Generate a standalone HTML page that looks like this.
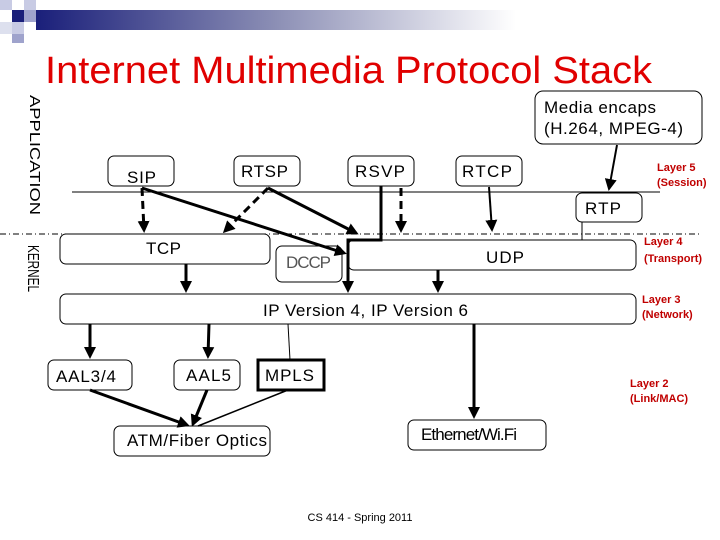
<!DOCTYPE html>
<html><head><meta charset="utf-8"><style>
html,body{margin:0;padding:0;background:#fff}
svg{display:block}
text{font-family:"Liberation Sans",Arial,sans-serif}
</style></head><body>
<svg width="720" height="540" viewBox="0 0 720 540" xmlns="http://www.w3.org/2000/svg">
<defs>
<linearGradient id="g" x1="0" x2="1" y1="0" y2="0">
<stop offset="0" stop-color="#1a1f7a"/><stop offset="0.5" stop-color="#8c8fb5"/><stop offset="1" stop-color="#ffffff"/>
</linearGradient>
<marker id="a" markerWidth="4" markerHeight="4" refX="3" refY="2" orient="auto" markerUnits="strokeWidth">
<path d="M0,0 L4,2 L0,4 z" fill="#000"/></marker>
<marker id="b" markerWidth="6" markerHeight="6" refX="5" refY="3" orient="auto" markerUnits="strokeWidth">
<path d="M0,0 L6,3 L0,6 z" fill="#000"/></marker>
</defs>
<rect x="36" y="10" width="480" height="20" fill="url(#g)"/>
<rect x="0" y="0" width="12" height="10" fill="#c8cbe4"/>
<rect x="12" y="10" width="12" height="12" fill="#1a1f7a"/>
<rect x="24" y="0" width="12" height="10" fill="#c8cbe4"/>
<rect x="24" y="10" width="12" height="12" fill="#9fa3cc"/>
<rect x="0" y="22" width="12" height="12" fill="#dde0ee"/>
<rect x="12" y="22" width="12" height="12" fill="#c8cbe4"/>
<rect x="12" y="34" width="12" height="9" fill="#9fa3cc"/>
<text x="45" y="83" font-size="38" fill="#e00000" textLength="607" lengthAdjust="spacingAndGlyphs">Internet Multimedia Protocol Stack</text>

<text transform="translate(30,95) rotate(90)" font-size="15" textLength="120" lengthAdjust="spacingAndGlyphs">APPLICATION</text>
<text transform="translate(28,245) rotate(90)" font-size="16" textLength="47" lengthAdjust="spacingAndGlyphs">KERNEL</text>

<line x1="72" y1="192" x2="660" y2="192" stroke="#000" stroke-width="1"/>
<line x1="0" y1="234" x2="700" y2="234" stroke="#000" stroke-width="1" stroke-dasharray="6,3,1,3"/>

<g fill="#fff" stroke="#000" stroke-width="1">
<rect x="535" y="91" width="167" height="53" rx="8"/>
<rect x="108" y="156" width="66" height="30" rx="6"/>
<rect x="234" y="156" width="66" height="30" rx="6"/>
<rect x="348" y="156" width="66" height="30" rx="6"/>
<rect x="456" y="156" width="66" height="30" rx="6"/>
<rect x="576" y="193" width="66" height="29" rx="6"/>
<rect x="60" y="234" width="210" height="30" rx="6"/>
<rect x="276" y="246" width="66" height="36" rx="6"/>
<rect x="348" y="240" width="288" height="30" rx="6"/>
<rect x="60" y="294" width="576" height="30" rx="6"/>
<rect x="48" y="360" width="84" height="30" rx="6"/>
<rect x="174" y="360" width="66" height="30" rx="6"/>
<rect x="114" y="426" width="156" height="30" rx="6"/>
<rect x="408" y="420" width="138" height="30" rx="6"/>
</g>
<rect x="258" y="360" width="66" height="30" fill="#fff" stroke="#000" stroke-width="3"/>

<g font-size="17" fill="#000" lengthAdjust="spacingAndGlyphs">
<text x="544" y="113" textLength="112">Media encaps</text>
<text x="544" y="134" textLength="139">(H.264, MPEG-4)</text>
<text x="127" y="183" textLength="29">SIP</text>
<text x="241" y="177" textLength="47">RTSP</text>
<text x="355" y="177" textLength="50">RSVP</text>
<text x="462" y="177" textLength="50">RTCP</text>
<text x="585" y="214" textLength="36">RTP</text>
<text x="146" y="254" textLength="35">TCP</text>
<text x="286" y="268" fill="#555" textLength="45">DCCP</text>
<text x="486" y="263" textLength="38">UDP</text>
<text x="263" y="316" textLength="205">IP Version 4, IP Version 6</text>
<text x="56" y="382" textLength="60">AAL3/4</text>
<text x="186" y="381" textLength="45">AAL5</text>
<text x="265" y="381" textLength="49">MPLS</text>
<text x="127" y="446" textLength="140">ATM/Fiber Optics</text>
<text x="421" y="440" textLength="96">Ethernet/Wi.Fi</text>
</g>
<g font-size="11" font-weight="bold" fill="#c00000">
<text x="657" y="171">Layer 5</text><text x="657" y="186">(Session)</text>
<text x="644" y="245">Layer 4</text><text x="644" y="262">(Transport)</text>
<text x="642" y="303">Layer 3</text><text x="642" y="318">(Network)</text>
<text x="630" y="387">Layer 2</text><text x="630" y="402">(Link/MAC)</text>
</g>
<text x="360" y="521" font-size="11" text-anchor="middle">CS 414 - Spring 2011</text>

<g stroke="#000" fill="none">
<line x1="142" y1="188" x2="144" y2="230" stroke-width="3" stroke-dasharray="8,5" marker-end="url(#a)"/>
<line x1="142" y1="188" x2="344" y2="253" stroke-width="3" marker-end="url(#a)"/>
<line x1="268" y1="188" x2="225" y2="231" stroke-width="3" stroke-dasharray="8,5" marker-end="url(#a)"/>
<line x1="268" y1="188" x2="356" y2="233" stroke-width="3" marker-end="url(#a)"/>
<polyline points="381,186 381,240 348,240 348,290" stroke-width="3" marker-end="url(#a)"/>
<line x1="401" y1="188" x2="401" y2="230" stroke-width="3" stroke-dasharray="8,5" marker-end="url(#a)"/>
<line x1="489" y1="187" x2="492" y2="230" stroke-width="2" marker-end="url(#b)"/>
<line x1="617" y1="145" x2="609" y2="189" stroke-width="2" marker-end="url(#b)"/>
<line x1="582" y1="222" x2="582" y2="240" stroke-width="1"/>
<line x1="438" y1="270" x2="438" y2="290" stroke-width="3" marker-end="url(#a)"/>
<line x1="186" y1="264" x2="186" y2="290" stroke-width="3" marker-end="url(#a)"/>
<line x1="90" y1="324" x2="90" y2="356" stroke-width="3" marker-end="url(#a)"/>
<line x1="209" y1="324" x2="208" y2="356" stroke-width="3" marker-end="url(#a)"/>
<line x1="288" y1="324" x2="290" y2="360" stroke-width="1"/>
<line x1="474" y1="324" x2="474" y2="416" stroke-width="3" marker-end="url(#a)"/>
<line x1="90" y1="390" x2="187" y2="425" stroke-width="3" marker-end="url(#a)"/>
<line x1="207" y1="390" x2="193" y2="424" stroke-width="3" marker-end="url(#a)"/>
<line x1="288" y1="390" x2="198" y2="426" stroke-width="1.5"/>
</g>
</svg>
</body></html>
